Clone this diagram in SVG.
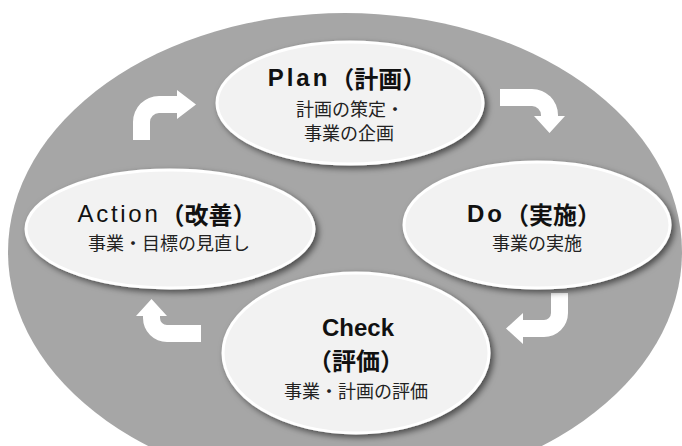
<svg xmlns="http://www.w3.org/2000/svg" width="682" height="446" viewBox="0 0 682 446">
<style>
.bg{fill:#a6a6a6}
.node{fill:#f2f2f2;stroke:#ffffff;stroke-width:3;filter:url(#sh)}
.arrow{fill:#ffffff;stroke:none}
.t{font-family:"Liberation Sans","Noto Sans CJK JP",sans-serif;font-size:24px;font-weight:bold;fill:#111;text-anchor:middle;dominant-baseline:central}
.j{font-family:"Noto Sans CJK JP",sans-serif;font-weight:bold}
.s{font-family:"Noto Sans CJK JP",sans-serif;font-size:18px;fill:#222;text-anchor:middle;dominant-baseline:central}
</style>
<defs>
<filter id="sh" x="-10%" y="-10%" width="125%" height="130%">
<feDropShadow dx="3" dy="3" stdDeviation="3" flood-color="#000" flood-opacity="0.55"/>
</filter>
</defs>
<ellipse class="bg" cx="345" cy="252" rx="337" ry="239"/>
<g id="connectors">
<path class="arrow" d="M133,140 V122 A26,26 0 0 1 159,96 H177 V90 L196,104.5 L177,119 V113 H159 A9,9 0 0 0 150,122 V140 Z"/>
<path class="arrow" d="M500,89 H532 A26,26 0 0 1 558,115 V116 H565 L549.5,133 L534,116 H541 V115 A9,9 0 0 0 532,106 H500 Z"/>
<path class="arrow" d="M568,293 V313 A24,24 0 0 1 544,337 H523 V344 L506,328.5 L523,313 V320 H544 A7,7 0 0 0 551,313 V293 Z"/>
<path class="arrow" d="M201,342 H167 A24,24 0 0 1 143,318 V316 H136 L151.5,299 L167,316 H160 V318 A7,7 0 0 0 167,325 H201 Z"/>
</g>
<g id="plan">
<ellipse class="node" cx="350" cy="103" rx="133" ry="61"/>
<text class="t" x="347" y="77"><tspan letter-spacing="3">Plan</tspan><tspan class="j">（計画）</tspan></text>
<text class="s" x="350" y="108">計画の策定・</text>
<text class="s" x="349" y="132">事業の企画</text>
</g>
<g id="action">
<ellipse class="node" cx="170" cy="229" rx="144" ry="59"/>
<text class="t" x="167" y="213"><tspan letter-spacing="2.7" font-weight="normal">Action</tspan><tspan class="j">（改善）</tspan></text>
<text class="s" x="169" y="242">事業・目標の見直し</text>
</g>
<g id="do">
<ellipse class="node" cx="537" cy="225" rx="133" ry="63"/>
<text class="t" x="534" y="213"><tspan letter-spacing="3">Do</tspan><tspan class="j">（実施）</tspan></text>
<text class="s" x="537" y="242">事業の実施</text>
</g>
<g id="check">
<ellipse class="node" cx="356" cy="353" rx="133" ry="80"/>
<text class="t" x="358" y="327">Check</text>
<text class="t j" x="356" y="359">（評価）</text>
<text class="s" x="356" y="390">事業・計画の評価</text>
</g>
</svg>
